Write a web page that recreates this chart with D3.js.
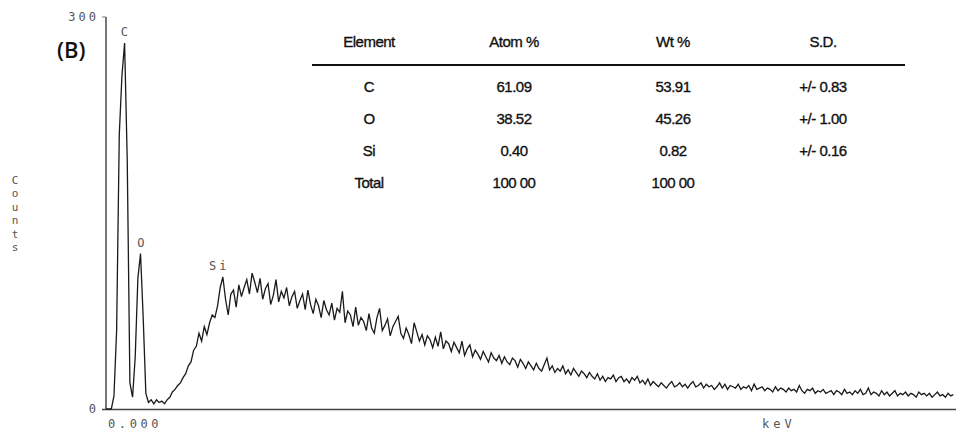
<!DOCTYPE html>
<html>
<head>
<meta charset="utf-8">
<script src="https://cdn.jsdelivr.net/npm/d3@7"></script>
<style>
  body { margin: 0; background: #fff; }
  .mono { font-family: "DejaVu Sans Mono", monospace; fill: #555; }
  .tbl { font-family: "Liberation Sans", Arial, sans-serif; fill: #111; stroke: #111; stroke-width: 0.35; }
</style>
</head>
<body>
<svg id="chart" width="956" height="433"></svg>
<script>
// EDS spectrum, counts per 0.04 keV channel starting at 0 keV
let eStep = 0.04;
let counts = [
  0,0,0,10,60,210,255,280,190,20,
  9,40,100,119,70,12,5,7,4,7,
  5,6,4,7,9,13,15,18,20,24,
  27,33,36,45,48,58,52,63,57,66,
  72,70,79,93,101,84,72,88,91,78,
  95,86,93,99,88,104,97,89,100,84,
  92,96,80,87,99,82,90,85,93,79,
  86,90,77,83,88,76,91,80,73,84,
  79,70,83,76,72,81,68,77,74,90,
  66,75,72,63,78,64,70,67,60,73,
  62,58,70,77,60,64,69,56,63,67,
  71,58,54,62,57,50,66,59,52,57,
  49,56,53,47,55,48,59,46,52,50,
  44,51,47,43,52,41,46,49,40,45,
  42,38,44,40,36,43,39,37,41,35,
  40,36,34,39,37,32,38,35,31,36,
  33,30,35,31,29,34,39,30,33,28,
  31,29,33,27,30,26,31,28,25,29,
  27,24,28,25,23,27,22,25,21,24,
  23,26,21,24,25,21,23,20,24,22,
  25,20,22,19,23,18,21,19,17,20,
  18,16,19,21,17,18,20,17,19,16,
  19,21,17,18,20,16,19,17,18,15,
  17,20,16,19,15,18,17,16,19,15,
  17,16,18,14,19,15,16,17,14,16,
  15,13,17,14,16,15,13,16,14,15,
  13,18,14,12,15,14,16,12,14,13,
  15,12,13,14,11,14,13,11,15,12,
  13,11,14,12,15,11,12,16,11,13,
  12,10,14,11,13,10,12,14,10,12,
  11,13,10,12,11,9,13,11,12,10,
  12,9,11,13,10,11,9,12,10,11
];

// peak markers
let peakNames = ["C", "O", "Si"];
let peakKeV = [0.277, 0.525, 1.74];
let peakCounts = [280, 119, 101];

// quantification table
let tableHead = ["Element", "Atom %", "Wt %", "S.D."];
let elements = ["C", "O", "Si", "Total"];
let atomPct = ["61.09", "38.52", "0.40", "100 00"];
let wtPct = ["53.91", "45.26", "0.82", "100 00"];
let sdev = ["+/- 0.83", "+/- 1.00", "+/- 0.16", ""];

let yTicks = [0, 300];

let svg = d3.select("#chart");

let x = d3.scaleLinear().domain([0, 12.8]).range([106, 956]);
let y = d3.scaleLinear().domain([0, 300]).range([409, 17]);

// axes
svg.append("line")
    .attr("x1", 106).attr("x2", 106)
    .attr("y1", y(300)).attr("y2", y(0))
    .attr("stroke", "#777").attr("stroke-width", 2);

svg.append("line")
    .attr("x1", 102).attr("x2", 956)
    .attr("y1", y(0) + 0.5).attr("y2", y(0) + 0.5)
    .attr("stroke", "#444").attr("stroke-width", 1.5);

svg.append("line")
    .attr("x1", 102).attr("x2", 106)
    .attr("y1", y(300)).attr("y2", y(300))
    .attr("stroke", "#777").attr("stroke-width", 1);

svg.selectAll(".ytick")
    .data(yTicks)
    .enter()
    .append("text")
    .attr("class", "mono")
    .attr("x", 99)
    .attr("y", function(d) { return y(d) + 4; })
    .attr("text-anchor", "end")
    .attr("font-size", "12px")
    .attr("letter-spacing", "3px")
    .text(function(d) { return d; });

svg.append("text")
    .attr("class", "mono")
    .attr("x", x(0) + 2)
    .attr("y", 428)
    .attr("font-size", "12px")
    .attr("letter-spacing", "3.6px")
    .text("0.000");

svg.append("text")
    .attr("class", "mono")
    .attr("x", 762)
    .attr("y", 428)
    .attr("font-size", "12px")
    .attr("letter-spacing", "4px")
    .text("keV");

svg.selectAll(".ylab")
    .data("Counts".split(""))
    .enter()
    .append("text")
    .attr("class", "mono")
    .attr("x", 15)
    .attr("y", function(d, i) { return 184 + i * 13.4; })
    .attr("text-anchor", "middle")
    .attr("font-size", "11px")
    .text(function(d) { return d; });

// spectrum
let line = d3.line()
    .x(function(d, i) { return x(i * eStep); })
    .y(function(d) { return y(d); });

svg.append("path")
    .datum(counts)
    .attr("d", line)
    .attr("fill", "none")
    .attr("stroke", "#1a1a1a")
    .attr("stroke-width", 1.3);

svg.selectAll(".peak")
    .data(peakNames)
    .enter()
    .append("text")
    .attr("class", "mono")
    .attr("x", function(d, i) { return x(peakKeV[i]); })
    .attr("y", function(d, i) { return y(peakCounts[i]) - 7; })
    .attr("text-anchor", function(d) { return d === "Si" ? "end" : "middle"; })
    .attr("dx", function(d) { return d === "Si" ? 8 : 0; })
    .attr("font-size", "12px")
    .attr("letter-spacing", function(d) { return d === "Si" ? "3px" : "0px"; })
    .text(function(d) { return d; });

svg.append("text")
    .attr("x", 57)
    .attr("y", 58)
    .attr("font-family", "'Open Sans', sans-serif")
    .attr("font-size", "22px")
    .attr("font-weight", 600)
    .attr("fill", "#111")
    .text("(B)");

// table
let colX = [369, 514, 673, 823];
let rowY = [87, 119, 151, 183];

svg.selectAll(".head")
    .data(tableHead)
    .enter()
    .append("text")
    .attr("class", "tbl")
    .attr("x", function(d, i) { return colX[i]; })
    .attr("y", 47)
    .attr("text-anchor", "middle")
    .attr("font-size", "15px")
    .attr("letter-spacing", "-0.5px")
    .text(function(d) { return d; });

svg.append("line")
    .attr("x1", 312).attr("x2", 905)
    .attr("y1", 65).attr("y2", 65)
    .attr("stroke", "#111").attr("stroke-width", 2);

let cols = [elements, atomPct, wtPct, sdev];
cols.forEach(function(col, c) {
    svg.selectAll(".col" + c)
        .data(col)
        .enter()
        .append("text")
        .attr("class", "tbl")
        .attr("x", colX[c])
        .attr("y", function(d, i) { return rowY[i] + 5; })
        .attr("text-anchor", "middle")
        .attr("font-size", "15px")
        .attr("letter-spacing", "-0.5px")
        .text(function(d) { return d; });
});
</script>
</body>
</html>
